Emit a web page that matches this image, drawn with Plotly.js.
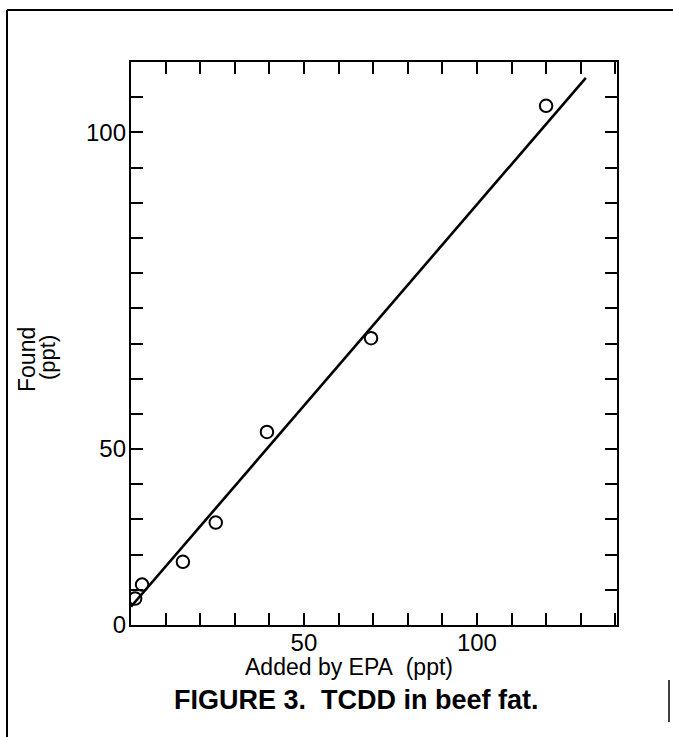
<!DOCTYPE html>
<html>
<head>
<meta charset="utf-8">
<script src="https://cdn.plot.ly/plotly-3.0.1.min.js"></script>
<style>
  html, body { margin: 0; padding: 0; background: #fff; }
  #chart { width: 673px; height: 737px; }
</style>
</head>
<body>
<div id="chart"></div>
<script>
// ---- data ----
const addedByEPA = [1.2, 3.2, 15.0, 24.5, 39.3, 69.4, 120.0];   // ppt
const found      = [26.4, 28.6, 32.2, 38.4, 52.7, 67.5, 104.2]; // ppt
const fitX = [0, 131.5];
const fitY = [25.1, 108.6];
const xTickVals = [50, 100];
const xTickText = ['50', '100'];
const yTickVals = [22.222, 50, 100];
const yTickText = ['0', '50', '100'];

// ---- layout geometry ----
const W = 673, H = 737;
const M = { l: 131, r: 56, t: 62, b: 112 };
const PW = W - M.l - M.r, PH = H - M.t - M.b;
const px = x => (x - M.l) / PW;          // pixel -> paper x
const py = y => (H - M.b - y) / PH;      // pixel -> paper y

const FONT = 'Liberation Sans, Arial, Helvetica, sans-serif';

const traces = [
  {
    x: fitX, y: fitY, type: 'scatter', mode: 'lines',
    line: { color: '#000', width: 2.6 }, hoverinfo: 'skip', showlegend: false
  },
  {
    x: addedByEPA, y: found, type: 'scatter', mode: 'markers',
    marker: { symbol: 'circle-open', size: 12.5, color: '#000', line: { width: 2, color: '#000' } },
    showlegend: false
  }
];

const axisCommon = {
  showgrid: false, zeroline: false,
  showline: true, linecolor: '#000', linewidth: 2.2,
  mirror: 'ticks', ticks: 'inside', ticklen: 12, tickwidth: 2, tickcolor: '#000',
  tickfont: { family: FONT, size: 24, color: '#000' }
};

const layout = {
  width: W, height: H,
  margin: M,
  paper_bgcolor: '#fff', plot_bgcolor: '#fff',
  showlegend: false,
  xaxis: Object.assign({}, axisCommon, {
    range: [0, 140.5], tickmode: 'array', tickvals: xTickVals, ticktext: xTickText,
    ticklabelstandoff: -5,
    minor: { dtick: 10, tick0: 0, ticks: 'inside', ticklen: 12, tickwidth: 2, tickcolor: '#000', showgrid: false }
  }),
  yaxis: Object.assign({}, axisCommon, {
    range: [22.222, 111.111], tickmode: 'array', tickvals: yTickVals, ticktext: yTickText,
    ticklabelstandoff: -2,
    minor: { dtick: 50 / 9, tick0: 50, ticks: 'inside', ticklen: 12, tickwidth: 2, tickcolor: '#000', showgrid: false }
  }),
  annotations: [
    {
      xref: 'paper', yref: 'paper', x: px(27), y: py(360), xanchor: 'center', yanchor: 'middle',
      showarrow: false, text: 'Found', textangle: -90,
      font: { family: FONT, size: 23, color: '#000' }
    },
    {
      xref: 'paper', yref: 'paper', x: px(48), y: py(358), xanchor: 'center', yanchor: 'middle',
      showarrow: false, text: '(ppt)', textangle: -90,
      font: { family: FONT, size: 22, color: '#000' }
    },
    {
      xref: 'paper', yref: 'paper', x: px(349), y: py(667), xanchor: 'center', yanchor: 'middle',
      showarrow: false, text: 'Added by EPA&nbsp;&nbsp;(ppt)',
      font: { family: FONT, size: 23, color: '#000' }
    },
    {
      xref: 'paper', yref: 'paper', x: px(356), y: py(700), xanchor: 'center', yanchor: 'middle',
      showarrow: false, text: 'FIGURE 3.&nbsp;&nbsp;TCDD in beef fat.',
      font: { family: FONT, size: 27, color: '#000', weight: 'bold' }
    }
  ],
  shapes: [
    { type: 'line', xref: 'paper', yref: 'paper', x0: px(7), x1: px(7), y0: py(10), y1: py(737), line: { color: '#000', width: 2 } },
    { type: 'line', xref: 'paper', yref: 'paper', x0: px(7), x1: px(673), y0: py(10), y1: py(10), line: { color: '#000', width: 2 } },
    { type: 'line', xref: 'paper', yref: 'paper', x0: px(669), x1: px(669), y0: py(680), y1: py(722), line: { color: '#000', width: 1.5 } }
  ]
};

Plotly.newPlot('chart', traces, layout, { staticPlot: true, displayModeBar: false });
</script>
</body>
</html>
